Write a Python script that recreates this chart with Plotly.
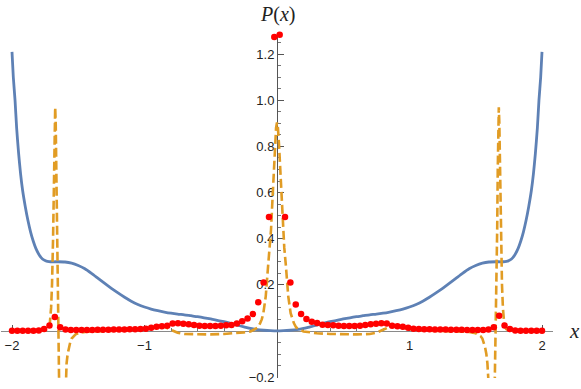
import numpy as np
import plotly.graph_objects as go

# ---------------- data ----------------
# blue curve
blue_x = [-2.0, -1.99, -1.977, -1.965, -1.95, -1.935, -1.92, -1.9, -1.88, -1.86, -1.84, -1.82, -1.80,
          -1.78, -1.76, -1.74, -1.72, -1.70, -1.65, -1.60, -1.55, -1.50, -1.45, -1.40, -1.35, -1.30,
          -1.25, -1.20, -1.15, -1.10, -1.05, -1.00, -0.95, -0.90, -0.85, -0.80, -0.75, -0.70, -0.65,
          -0.60, -0.55, -0.50, -0.45, -0.40, -0.35, -0.30, -0.25, -0.20, -0.15, -0.10, -0.05, 0.0,
          0.05, 0.10, 0.15, 0.20, 0.25, 0.30, 0.35, 0.40, 0.45, 0.50, 0.55, 0.60, 0.65, 0.70, 0.75,
          0.80, 0.85, 0.90, 0.95, 1.00, 1.05, 1.10, 1.15, 1.20, 1.25, 1.30, 1.35, 1.40, 1.45, 1.50,
          1.55, 1.60, 1.65, 1.70, 1.72, 1.74, 1.76, 1.78, 1.80, 1.82, 1.84, 1.86, 1.88, 1.9, 1.92,
          1.935, 1.95, 1.965, 1.977, 1.99, 2.0]
blue_y = [1.21, 1.10, 1.00, 0.88, 0.77, 0.68, 0.61, 0.54, 0.48, 0.43, 0.39, 0.358, 0.335,
          0.318, 0.308, 0.303, 0.301, 0.300, 0.300, 0.299, 0.294, 0.284, 0.270, 0.250, 0.228, 0.206,
          0.185, 0.165, 0.146, 0.129, 0.115, 0.104, 0.095, 0.088, 0.082, 0.077, 0.073, 0.070, 0.066,
          0.062, 0.057, 0.052, 0.046, 0.040, 0.033, 0.025, 0.018, 0.011, 0.006, 0.003, 0.001, 0.0,
          0.001, 0.003, 0.006, 0.011, 0.018, 0.025, 0.033, 0.040, 0.046, 0.052, 0.057, 0.062, 0.066,
          0.070, 0.073, 0.077, 0.082, 0.088, 0.095, 0.104, 0.115, 0.129, 0.146, 0.165, 0.185, 0.206,
          0.228, 0.250, 0.270, 0.284, 0.294, 0.299, 0.300, 0.300, 0.301, 0.303, 0.308, 0.318, 0.335,
          0.358, 0.39, 0.43, 0.48, 0.54, 0.61, 0.68, 0.77, 0.88, 1.00, 1.10, 1.21]

# orange dashed curve
orange_x = [-2.0, -1.9, -1.8, -1.75, -1.73, -1.715, -1.705, -1.698, -1.69, -1.683, -1.678, -1.674,
            -1.670, -1.666, -1.662, -1.658, -1.654, -1.650, -1.645, -1.640, -1.62, -1.60, -1.595,
            -1.588, -1.58, -1.57, -1.56, -1.55, -1.535, -1.52, -1.50, -1.45, -1.40, -1.3, -1.2, -1.1,
            -1.0, -0.95, -0.9, -0.85, -0.8, -0.75, -0.7, -0.6, -0.5, -0.4, -0.3, -0.25, -0.2, -0.166,
            -0.145, -0.128, -0.115, -0.103, -0.085, -0.066, -0.055, -0.045, -0.035, -0.025, -0.015,
            -0.007, 0.0,
            0.007, 0.015, 0.025, 0.035, 0.045, 0.055, 0.066, 0.085, 0.103, 0.115, 0.128, 0.145,
            0.166, 0.2, 0.25, 0.3, 0.4, 0.5, 0.6, 0.7, 0.75, 0.8, 0.85, 0.9, 0.95, 1.0, 1.1, 1.2, 1.3,
            1.40, 1.45, 1.50, 1.52, 1.535, 1.55, 1.56, 1.57, 1.58, 1.588, 1.595, 1.60, 1.62, 1.640,
            1.645, 1.650, 1.654, 1.658, 1.662, 1.666, 1.670, 1.674, 1.678, 1.683, 1.69, 1.698, 1.705,
            1.715, 1.73, 1.75, 1.8, 1.9, 2.0]
orange_y = [0.0, 0.0, 0.0, 0.002, 0.008, 0.03, 0.1, 0.2, 0.4, 0.7, 0.9, 0.97,
            0.9, 0.7, 0.45, 0.22, 0.05, -0.08, -0.2, -0.35, -1.0, -0.35, -0.21,
            -0.14, -0.1, -0.07, -0.048, -0.033, -0.022, -0.015, -0.01, -0.004, -0.002, 0.0, 0.0, 0.002,
            0.008, 0.015, 0.02, 0.018, 0.005, -0.008, -0.013, -0.015, -0.015, -0.013, -0.01, -0.006, -0.002, 0.007,
            0.015, 0.033, 0.05, 0.077, 0.15, 0.29, 0.36, 0.44, 0.56, 0.69, 0.81,
            0.88, 0.904,
            0.88, 0.81, 0.69, 0.56, 0.44, 0.36, 0.29, 0.15, 0.077, 0.05, 0.033, 0.015,
            0.007, -0.002, -0.006, -0.01, -0.013, -0.015, -0.015, -0.013, -0.008, 0.005, 0.018, 0.02, 0.015, 0.008, 0.002, 0.0, 0.0,
            -0.002, -0.004, -0.01, -0.015, -0.022, -0.033, -0.048, -0.07, -0.1, -0.14, -0.21, -0.35, -1.0, -0.35,
            -0.2, -0.08, 0.05, 0.22, 0.45, 0.7, 0.9, 0.97, 0.9, 0.7, 0.4, 0.2, 0.1,
            0.03, 0.008, 0.002, 0.0, 0.0, 0.0]

# red sampled points (100 samples over [-2, 2])
red_x = np.linspace(-2, 2, 100)
red_y = [0.001, 0.001, 0.001, 0.001, 0.001, 0.002, 0.008, 0.024, 0.061, 0.016,
         0.006, 0.004, 0.004, 0.004, 0.004, 0.004, 0.005, 0.005, 0.005, 0.006,
         0.006, 0.006, 0.007, 0.007, 0.008, 0.010, 0.014, 0.018, 0.020, 0.023,
         0.032, 0.033, 0.031, 0.029, 0.026, 0.023, 0.021, 0.022, 0.022, 0.023,
         0.025, 0.026, 0.032, 0.042, 0.054, 0.073, 0.125, 0.21, 0.494, 1.275,
         1.284, 0.494, 0.21, 0.115, 0.074, 0.052, 0.040, 0.034, 0.027, 0.026,
         0.025, 0.023, 0.022, 0.022, 0.021, 0.023, 0.026, 0.029, 0.031, 0.033,
         0.032, 0.023, 0.020, 0.018, 0.014, 0.010, 0.008, 0.007, 0.007, 0.006,
         0.006, 0.006, 0.005, 0.005, 0.005, 0.004, 0.004, 0.004, 0.004, 0.006,
         0.016, 0.066, 0.024, 0.008, 0.002, 0.001, 0.001, 0.001, 0.001, 0.001]

x_ticks = [-2, -1, 1, 2]
x_ticklabels = ["\u22122", "\u22121", "1", "2"]
y_ticks = [-0.2, 0.2, 0.4, 0.6, 0.8, 1.0, 1.2]
y_ticklabels = ["\u22120.2", "0.2", "0.4", "0.6", "0.8", "1.0", "1.2"]

# ---------------- figure ----------------
XR = [-2.083, 2.083]
YR = [-0.204, 1.292]

fig = go.Figure()
fig.add_trace(go.Scatter(x=blue_x, y=blue_y, mode="lines",
                         line=dict(color="#5E81B5", width=2.8, shape="spline", smoothing=0.6),
                         hoverinfo="skip", showlegend=False))
fig.add_trace(go.Scatter(x=orange_x, y=orange_y, mode="lines",
                         line=dict(color="#E19C24", width=2.6, dash="9px,4px"),
                         hoverinfo="skip", showlegend=False))
fig.add_trace(go.Scatter(x=red_x, y=red_y, mode="markers",
                         marker=dict(color="#FF0000", size=6.5),
                         cliponaxis=False, hoverinfo="skip", showlegend=False))

minor_x = [round(v, 2) for v in np.arange(-2.0, 2.01, 0.2) if abs(round(v, 2) - round(v)) > 1e-6]
minor_y = [round(v, 2) for v in np.arange(-0.2, 1.28, 0.05)]

tickfont = dict(family="Liberation Sans, Arial, sans-serif", size=13, color="#222")

fig.update_layout(
    width=581, height=389,
    margin=dict(l=1, r=28, t=33, b=11, autoexpand=False),
    paper_bgcolor="white", plot_bgcolor="white",
    xaxis=dict(range=XR, showgrid=False, zeroline=False, showline=True,
               linecolor="#8a8a8a", linewidth=1,
               anchor="free", position=(0 - YR[0]) / (YR[1] - YR[0]),
               tickmode="array", tickvals=x_ticks, ticktext=x_ticklabels,
               ticks="inside", ticklen=6, tickcolor="#555", tickwidth=1,
               minor=dict(tickvals=minor_x, ticks="inside", ticklen=3, tickcolor="#777", tickwidth=1),
               tickfont=tickfont, ticklabelstandoff=2, layer="below traces", fixedrange=True),
    yaxis=dict(range=YR, showgrid=False, zeroline=False, showline=True,
               linecolor="#555", linewidth=1,
               anchor="free", position=(0 - XR[0]) / (XR[1] - XR[0]),
               tickmode="array", tickvals=y_ticks, ticktext=y_ticklabels,
               ticks="inside", ticklen=6, tickcolor="#555", tickwidth=1,
               minor=dict(tickvals=minor_y, ticks="inside", ticklen=3, tickcolor="#777", tickwidth=1),
               tickfont=tickfont, layer="below traces", fixedrange=True),
)

fig.add_annotation(x=0, y=1.0, xref="x", yref="paper", yshift=19,
                   xanchor="center", yanchor="middle",
                   text="<i>P</i>(<i>x</i>)", showarrow=False,
                   font=dict(family="Liberation Serif, Times New Roman, serif", size=20, color="#222"))
fig.add_annotation(x=1.0, y=0, xref="paper", yref="y", xshift=21,
                   xanchor="center", yanchor="middle",
                   text="<i>x</i>", showarrow=False,
                   font=dict(family="Liberation Serif, Times New Roman, serif", size=21, color="#222"))

fig.write_html("out.html", config={"displayModeBar": False},
               post_script="document.body.style.margin='0';")
